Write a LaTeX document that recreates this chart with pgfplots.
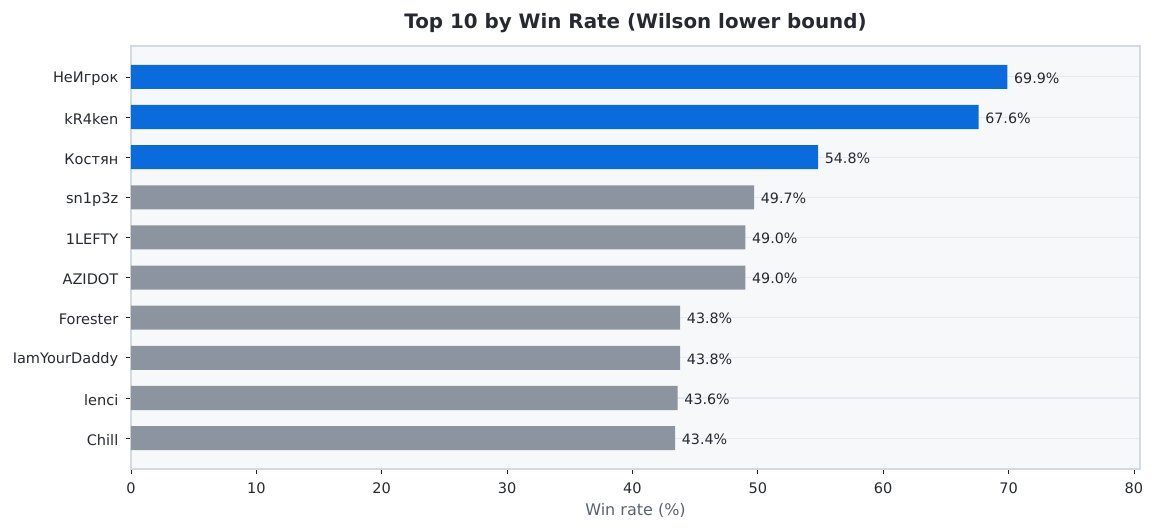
\documentclass[border=0pt]{standalone}
\usepackage{fontspec}
\setmainfont{DejaVu Sans}
\usepackage{pgfplots}
\pgfplotsset{compat=1.18}
\definecolor{barblue}{HTML}{0A6BDC}
\definecolor{bargray}{HTML}{8C94A0}
\definecolor{axbg}{HTML}{F7F8FA}
\definecolor{frame}{HTML}{D3DAE3}
\definecolor{gridc}{HTML}{E6EAF0}
\definecolor{txt}{HTML}{262A30}
\definecolor{lbl}{HTML}{5A6270}
\begin{document}
\begin{tikzpicture}
\useasboundingbox (-98.25pt,-46.5pt) rectangle (769.5pt,351.75pt);
\begin{axis}[
  at={(0,0)}, anchor=south west,
  scale only axis,
  width=756.75pt, height=317.25pt,
  xmin=0, xmax=80.48,
  ymin=-0.77, ymax=9.77,
  y dir=reverse,
  xtick={0,10,...,80},
  ytick={0,...,9},
  yticklabels={НеИгрок,kR4ken,Костян,sn1p3z,1LEFTY,AZIDOT,Forester,IamYourDaddy,lenci,Chill},
  /pgf/number format/assume math mode=true,
  tick label style={font=\fontsize{10.9}{12}\selectfont, color=txt},
  xticklabel style={yshift=-3pt},
  yticklabel style={xshift=-2.25pt, yshift=-1.5pt},
  tick align=outside, tick pos=left,
  major tick length=3.75pt,
  tick style={color=txt, line width=0.6pt},
  axis line style={color=frame, line width=0.8pt},
  axis background/.style={fill=axbg},
  ymajorgrids, grid style={color=gridc, line width=0.8pt},
  title={Top 10 by Win Rate (Wilson lower bound)},
  title style={font=\bfseries\fontsize{14.9}{18}\selectfont, color=txt, at={(axis description cs:0.5,1)}, anchor=base, yshift=6.75pt},
  xlabel={Win rate (\%)},
  xlabel style={font=\fontsize{12}{14}\selectfont, color=lbl, at={(axis description cs:0.5,0)}, anchor=base, yshift=-34.5pt},
  point meta=x,
  nodes near coords={\pgfmathprintnumber[fixed,precision=1,fixed zerofill]{\pgfplotspointmeta}\%},
  nodes near coords style={font=\fontsize{10.7}{12}\selectfont, color=txt, anchor=west, inner sep=0pt, xshift=4.9pt, yshift=-0.75pt},
]
\addplot[xbar, bar width=0.6, bar shift=0pt, fill=barblue, draw=none] coordinates {(69.9,0) (67.6,1) (54.8,2)};
\addplot[xbar, bar width=0.6, bar shift=0pt, fill=bargray, draw=none] coordinates {(49.7,3) (49.0,4) (49.0,5) (43.8,6) (43.8,7) (43.6,8) (43.4,9)};
\end{axis}
\end{tikzpicture}
\end{document}
